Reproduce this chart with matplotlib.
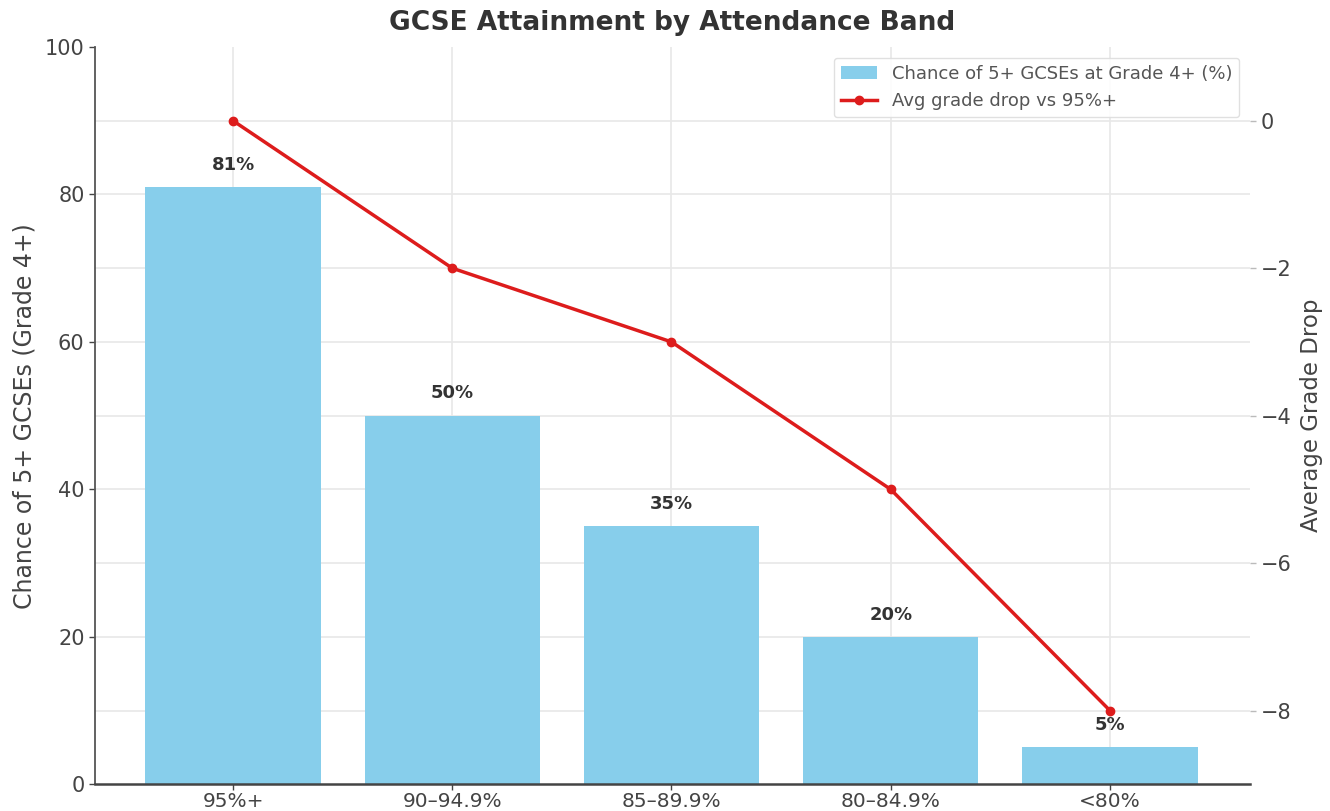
import matplotlib
matplotlib.use("Agg")
import matplotlib.pyplot as plt

plt.rcParams['font.family'] = ['DejaVu Sans']

bands = ["95%+", "90–94.9%", "85–89.9%", "80–84.9%", "<80%"]
chance = [81, 50, 35, 20, 5]
grade_drop = [0, -2, -3, -5, -8]

fig = plt.figure(figsize=(13.3, 8.11), dpi=100)
ax1 = fig.add_axes([0.0714, 0.033, 0.8686, 0.909])
ax2 = ax1.twinx()

# bar axes on top so all grid lines sit behind bars and line
ax1.set_zorder(ax2.get_zorder() + 1)
ax1.patch.set_visible(False)

x = list(range(len(bands)))
bars = ax1.bar(x, chance, width=0.8, color="#87CEEB",
               label="Chance of 5+ GCSEs at Grade 4+ (%)", zorder=2)
for xi, v in zip(x, chance):
    ax1.text(xi, v + 1.8, f"{v}%", ha="center", va="bottom", fontsize=13,
             fontweight="bold", color="#333333", zorder=5)

ax1.set_ylim(0, 100)
ax2.set_ylim(-9, 1)
ax1.set_xlim(-0.63, 4.64)
ax1.set_xticks(x)
ax1.set_xticklabels(bands)
ax1.set_yticks([0, 20, 40, 60, 80, 100])
ax2.set_yticks([0, -2, -4, -6, -8])
ax2.set_yticklabels(["0", "−2", "−4", "−6", "−8"])

# grid: all drawn on ax2 (behind). Minor ticks mirror left-axis ticks
ax2.xaxis.set_visible(True)
ax2.set_yticks([-7, -5, -3, -1], minor=True)
ax2.set_xticks(x)
gridc = "#e8e8e8"
ax2.grid(True, which="both", axis="y", color=gridc, linewidth=1.2)
ax2.grid(True, axis="x", color=gridc, linewidth=1.2)
ax2.tick_params(axis="y", which="minor", length=0)
ax2.tick_params(axis="x", bottom=False, top=False, labelbottom=False, labeltop=False)

line, = ax2.plot(x, grade_drop, color="#dd1c1c", marker="o", markersize=6,
                 linewidth=2.5, label="Avg grade drop vs 95%+", zorder=3)

for s in ["top", "right"]:
    ax1.spines[s].set_visible(False)
for s in ax2.spines.values():
    s.set_visible(False)
ax1.spines["left"].set_color("#555555")
ax1.spines["bottom"].set_color("#444444")
ax1.spines["left"].set_linewidth(1.3)
ax1.spines["bottom"].set_linewidth(1.8)

ax1.tick_params(axis="y", labelsize=15, colors="#444444", length=4, width=1)
ax1.tick_params(axis="x", labelsize=14.5, colors="#444444", length=4, width=1, pad=1.5)
ax2.tick_params(axis="y", which="major", labelsize=15, labelcolor="#444444",
                color="#bbbbbb", length=4, width=1)

ax1.set_ylabel("Chance of 5+ GCSEs (Grade 4+)", fontsize=17, color="#444444", labelpad=6)
ax2.set_ylabel("Average Grade Drop", fontsize=16.5, color="#444444", labelpad=6)
ax1.set_title("GCSE Attainment by Attendance Band", fontsize=19, fontweight="bold",
              color="#333333", pad=12)

handles = [bars, line]
labels = [h.get_label() for h in handles]
leg = ax1.legend(handles, labels, loc="upper right", fontsize=13, frameon=True,
                 framealpha=0.9, edgecolor="#dddddd", borderaxespad=0.6)
for t in leg.get_texts():
    t.set_color("#555555")

fig.savefig("out.png", dpi=100)
